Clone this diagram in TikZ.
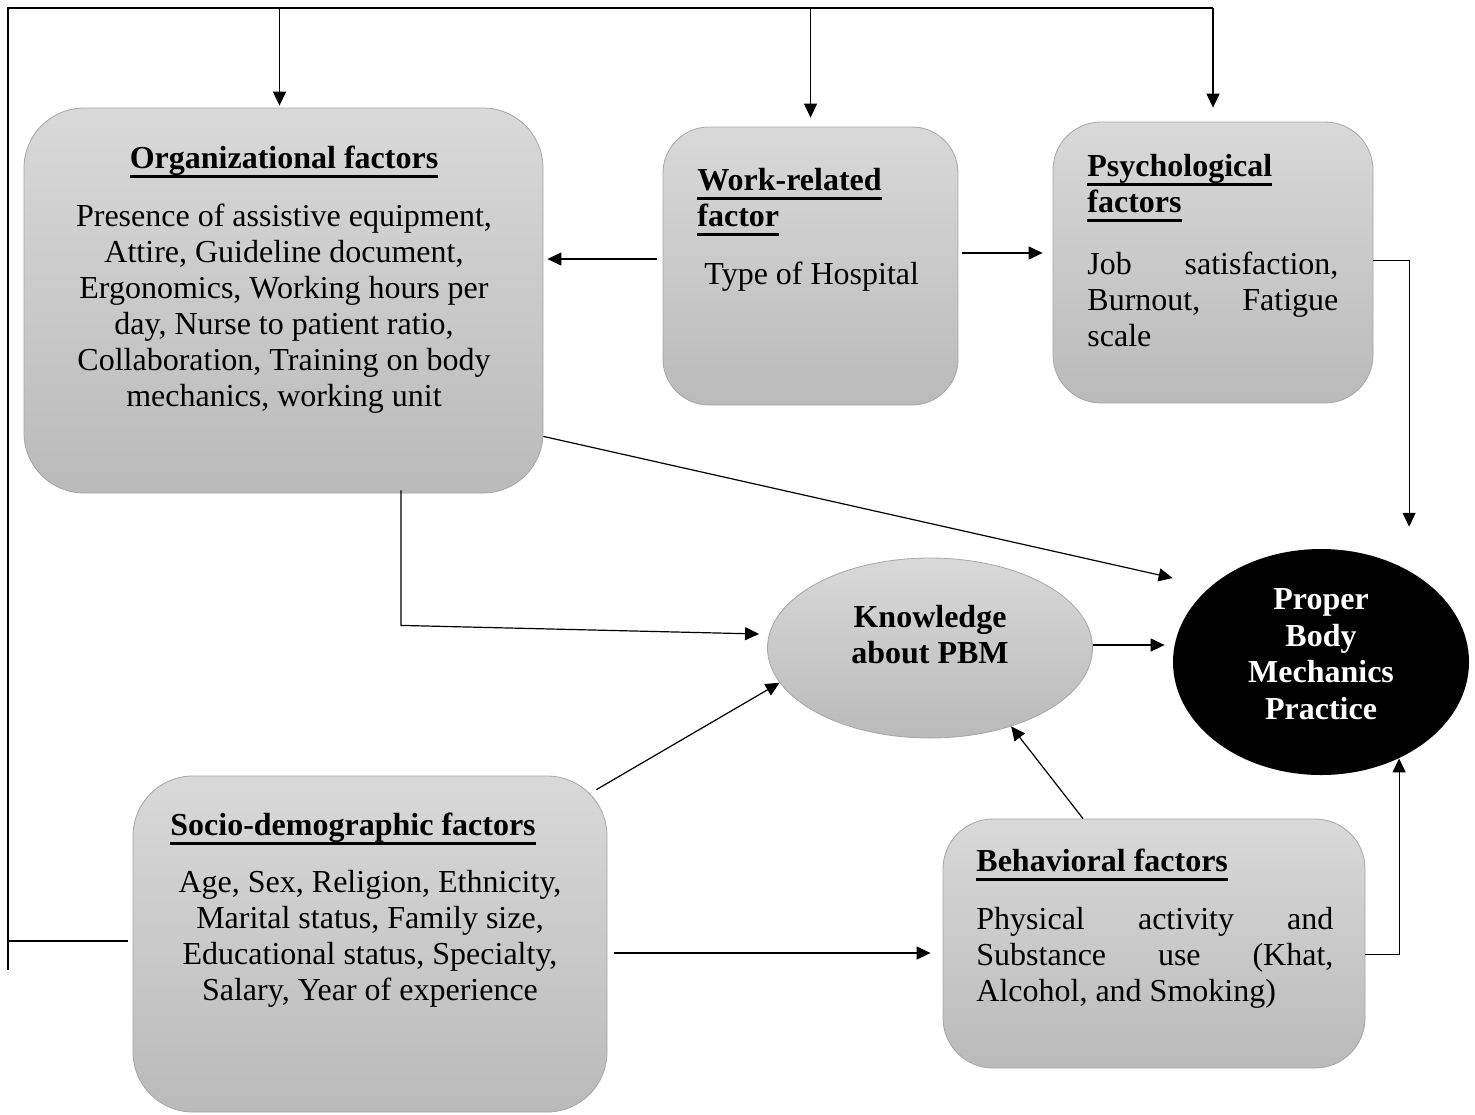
\documentclass[tikz,border=0pt]{standalone}
\usepackage{fontspec}
\setmainfont{Liberation Serif}
\usetikzlibrary{arrows.meta,shapes.geometric}
\newcommand{\headul}[1]{\setbox0\hbox{\textbf{#1}}\rlap{\rule[-4.5pt]{\wd0}{1.3pt}}\box0}

\begin{document}
\begin{tikzpicture}[x=0.5pt, y=-0.5pt,
    factor/.style={rectangle, rounded corners=30pt, draw=black!35, top color=black!15, bottom color=black!27, inner sep=0pt},
    know/.style={ellipse, draw=black!35, top color=black!15, bottom color=black!27, minimum width=162.5pt, minimum height=90pt, inner sep=0pt},
    outcome/.style={ellipse, fill=black, minimum width=148pt, minimum height=113pt, inner sep=0pt},
    txt/.style={inner sep=0pt, font=\fontsize{16}{18}\selectfont},
    arr/.style={-{Triangle[length=7pt, width=6.5pt]}, line width=0.6pt},
    link/.style={line width=0.6pt}
]
\useasboundingbox (0,0) rectangle (1475,1114);

% Factor boxes
\node[factor, minimum width=259.5pt, minimum height=192.5pt] (org) at (283.5,300.5) {};
\node[factor, rounded corners=23pt, minimum width=147.5pt, minimum height=139pt] (work) at (810.5,266) {};
\node[factor, rounded corners=24pt, minimum width=160pt, minimum height=140.5pt] (psych) at (1213,262.5) {};
\node[factor, minimum width=237pt, minimum height=168pt] (socio) at (370,944) {};
\node[factor, rounded corners=25pt, minimum width=211pt, minimum height=124.5pt] (behav) at (1154,943.5) {};

% Knowledge and outcome
\node[know] (know) at (930,648) {};
\node[outcome] (pbm) at (1321,662) {};

% Texts
\node[txt] (orgtitle) at (284,162) {\headul{Organizational factors}};
\node[txt, align=center] (orgbody) at (284,309) {Presence of assistive equipment,\\Attire, Guideline document,\\Ergonomics, Working hours per\\day, Nurse to patient ratio,\\Collaboration, Training on body\\mechanics, working unit};

\node[txt, anchor=west, align=left] (worktitle) at (697,202) {\headul{Work-related}\\\headul{factor}};
\node[txt, anchor=west] (workbody) at (704,277) {Type of Hospital};

\node[txt, anchor=west, align=left] (psychtitle) at (1087,188) {\headul{Psychological}\\\headul{factors}};
\node[txt, anchor=west, text width=125.5pt, align=justify] (psychbody) at (1087,299) {\hyphenpenalty=10000 Job satisfaction,\linebreak Burnout, Fatigue\linebreak scale};

\node[txt, anchor=west] (sociotitle) at (170,829) {\headul{Socio-demographic factors}};
\node[txt, align=center] (sociobody) at (370,939) {Age, Sex, Religion, Ethnicity,\\Marital status, Family size,\\Educational status, Specialty,\\Salary, Year of experience};

\node[txt, anchor=west] (behavtitle) at (976,865) {\headul{Behavioral factors}};
\node[txt, anchor=west, text width=178.5pt, align=justify] (behavbody) at (976,958) {\hyphenpenalty=10000 Physical activity and\linebreak Substance use (Khat,\linebreak Alcohol, and Smoking)};

\node[txt, align=center, font=\fontsize{16}{18}\selectfont\bfseries] (knowtext) at (930,635) {Knowledge\\about PBM};
\node[txt, align=center, text=white, font=\fontsize{16}{18.3}\selectfont\bfseries] (pbmtext) at (1321,654) {Proper\\Body\\Mechanics\\Practice};

% Outer frame from socio-demographic factors
\coordinate (tl) at (8,8);
\coordinate (bl) at (8,970);
\coordinate (tr) at (psych.north |- tl);
\draw[link] (bl) -- (tl) -- (tr);
\draw[link, shorten <=2.5pt] ([yshift=1.5pt]socio.west) -- ([yshift=1.5pt]socio.west -| tl);
\draw[arr, shorten >=1pt] ([xshift=-2pt]org.north |- tl) -- ([xshift=-2pt]org.north);
\draw[arr, shorten >=4.5pt] (work.north |- tl) -- (work.north);
\draw[arr, shorten >=7pt] (tr) -- (psych.north);

% Work-related factor links
\draw[arr, shorten <=3pt, shorten >=2pt] ([yshift=3.5pt]work.west) -- ([yshift=3.5pt]work.west -| org.east);
\draw[arr, shorten <=2pt, shorten >=5pt] ([yshift=6.5pt]work.east) -- ([yshift=6.5pt]work.east -| psych.west);

% Links into the outcome
\draw[arr] ([yshift=1pt]psych.east) -| ([yshift=22pt]pbm.46);
\draw[arr] ([yshift=-5.5pt]behav.east) -| (pbm.-51);
\draw[arr] ([yshift=28.5pt]org.south east) -- ([yshift=42pt]pbm.west);
\draw[arr, shorten >=4pt] ([yshift=1.5pt]know.east) -- ([yshift=1.5pt]know.east -| pbm.west);

% Links into knowledge
\draw[arr] ([xshift=58.75pt, yshift=1.5pt]org.south) -- ++(0,-67.5pt) -- ([xshift=-4pt, yshift=7pt]know.west);
\draw[arr] ([xshift=-5.5pt, yshift=-7pt]socio.north east) -- (know.193);
\draw[arr] ([xshift=-35.5pt]behav.north) -- (know.-44);

% Socio-demographic to behavioral
\draw[arr, shorten <=3.5pt, shorten >=6pt] ([yshift=-4.5pt]socio.east) -- ([yshift=-4.5pt]socio.east -| behav.west);

\end{tikzpicture}
\end{document}
